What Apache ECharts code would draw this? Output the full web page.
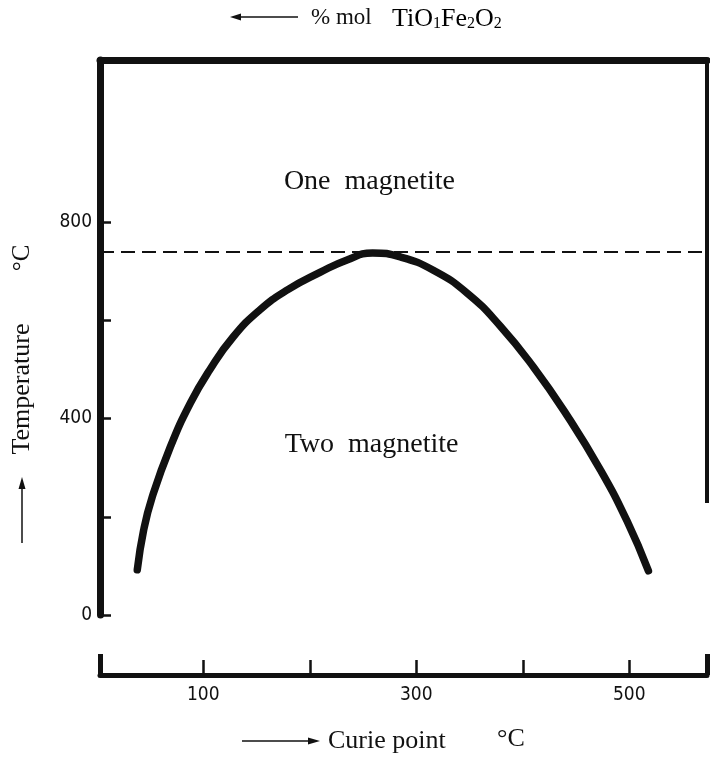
<!DOCTYPE html>
<html>
<head>
<meta charset="utf-8">
<style>
html, body { margin: 0; padding: 0; background: #fff; }
#chart { width: 710px; height: 759px; }
</style>
<script src="https://cdn.jsdelivr.net/npm/echarts@6/dist/echarts.min.js"></script>
</head>
<body>
<div id="chart"></div>
<script>
// solvus curve (Curie point, temperature)
var curieX = [38, 44, 52, 69, 88, 106, 128, 153, 179, 210, 235, 259, 285, 316, 348, 379, 410, 442, 473, 498, 518];
var tempY = [92, 173, 240, 342, 432, 499, 566, 621, 662, 698, 723, 737, 729, 702, 655, 588, 505, 405, 295, 191, 90];
var critTemp = 740;

var xTicks = [100, 200, 300, 400, 500];
var xLabels = [100, 300, 500];
var xEnds = [3, 573];
var yTicks = [0, 200, 400, 600, 800];
var yLabels = [0, 400, 800];

var regionNames = ['One  magnetite', 'Two  magnetite'];
var regionX = [256, 258];
var regionY = [883, 346];

var ink = '#111';
var numFont = '"DejaVu Sans Condensed", "Liberation Sans Narrow", sans-serif';
var serif = '"Liberation Serif", "DejaVu Serif", serif';

var curve = [];
for (var i = 0; i < curieX.length; i++) {
  curve.push([curieX[i], tempY[i]]);
}
var regions = [];
for (var j = 0; j < regionNames.length; j++) {
  regions.push({ name: regionNames[j], value: [regionX[j], regionY[j]] });
}

var myChart = echarts.init(document.getElementById('chart'));
myChart.setOption({
  animation: false,
  backgroundColor: '#fff',
  grid: { left: 100, right: 3, top: 60, bottom: 144 },
  xAxis: [
    {
      type: 'value', position: 'bottom', offset: 60,
      min: xEnds[0], max: xEnds[1],
      axisLine: { show: true, onZero: false, lineStyle: { color: ink, width: 5 } },
      axisTick: { show: true, inside: true, length: 15, customValues: xTicks,
        lineStyle: { color: ink, width: 2.5 } },
      axisLabel: { show: true, customValues: xLabels, margin: 11,
        fontFamily: numFont, fontSize: 19, color: ink },
      splitLine: { show: false }
    },
    {
      // the two end caps of the lower scale
      type: 'value', position: 'bottom', offset: 60,
      min: xEnds[0], max: xEnds[1],
      axisLine: { show: false, onZero: false },
      axisTick: { show: true, inside: true, length: 21, customValues: xEnds,
        lineStyle: { color: ink, width: 5 } },
      axisLabel: { show: false },
      splitLine: { show: false }
    },
    {
      type: 'value', position: 'top',
      min: xEnds[0], max: xEnds[1],
      axisLine: { show: true, onZero: false, lineStyle: { color: ink, width: 7 } },
      axisTick: { show: false },
      axisLabel: { show: false },
      splitLine: { show: false }
    }
  ],
  yAxis: {
    type: 'value', min: 0, max: 1130, interval: 200,
    axisLine: { show: true, onZero: false, lineStyle: { color: ink, width: 7 } },
    axisTick: { show: true, inside: true, length: 11, customValues: yTicks,
      lineStyle: { color: ink, width: 2.5 } },
    axisLabel: { show: true, customValues: yLabels, margin: 8,
      fontFamily: numFont, fontSize: 19, color: ink },
    splitLine: { show: false }
  },
  series: [
    {
      type: 'line',
      data: curve,
      smooth: 0.5,
      symbol: 'none',
      clip: false,
      lineStyle: { color: ink, width: 7.5, cap: 'round', join: 'round' },
      markLine: {
        silent: true,
        symbol: 'none',
        label: { show: false },
        data: [
          { yAxis: critTemp, lineStyle: { type: [14, 7], width: 1.8, color: ink } },
          [
            { coord: [xEnds[1], 228], lineStyle: { type: 'solid', width: 4, color: ink } },
            { coord: [xEnds[1], 1130] }
          ]
        ]
      }
    },
    {
      type: 'scatter',
      data: regions,
      symbolSize: 0,
      silent: true,
      itemStyle: { opacity: 1 },
      label: {
        show: true,
        position: 'inside',
        formatter: '{b}',
        fontFamily: serif,
        fontSize: 28,
        color: ink
      }
    }
  ],
  graphic: [
    // top caption
    { type: 'line', shape: { x1: 236, y1: 17, x2: 298, y2: 17 }, style: { stroke: ink, lineWidth: 1.5 } },
    { type: 'polygon', shape: { points: [[230, 17], [241, 13.5], [241, 20.5]] }, style: { fill: ink } },
    { type: 'text', x: 311, y: 18, style: { text: '% mol', fontFamily: serif, fontSize: 23,
      fill: ink, verticalAlign: 'middle' } },
    {
      type: 'text', x: 392, y: 18,
      style: {
        text: '{a|TiO}{s|1}{a|Fe}{s|2}{a|O}{s|2}',
        verticalAlign: 'middle',
        rich: {
          a: { fontFamily: serif, fontSize: 26, color: ink, verticalAlign: 'bottom', lineHeight: 28 },
          s: { fontFamily: serif, fontSize: 16, color: ink, verticalAlign: 'bottom', lineHeight: 28 }
        }
      }
    },
    // x axis name
    { type: 'line', shape: { x1: 242, y1: 741, x2: 312, y2: 741 }, style: { stroke: ink, lineWidth: 1.5 } },
    { type: 'polygon', shape: { points: [[320, 741], [308, 737.5], [308, 744.5]] }, style: { fill: ink } },
    { type: 'text', x: 328, y: 741, style: { text: 'Curie point', fontFamily: serif, fontSize: 26,
      fill: ink, verticalAlign: 'middle' } },
    { type: 'text', x: 497, y: 739, style: { text: '°C', fontFamily: serif, fontSize: 26,
      fill: ink, verticalAlign: 'middle' } },
    // y axis name, read bottom to top
    { type: 'line', shape: { x1: 22, y1: 543, x2: 22, y2: 486 }, style: { stroke: ink, lineWidth: 1.5 } },
    { type: 'polygon', shape: { points: [[22, 477], [18.5, 489], [25.5, 489]] }, style: { fill: ink } },
    { type: 'text', x: 22, y: 389, rotation: Math.PI / 2,
      style: { text: 'Temperature', fontFamily: serif, fontSize: 26, fill: ink,
        align: 'center', verticalAlign: 'middle' } },
    { type: 'text', x: 22, y: 258, rotation: Math.PI / 2,
      style: { text: '°C', fontFamily: serif, fontSize: 25, fill: ink,
        align: 'center', verticalAlign: 'middle' } }
  ]
});
</script>
</body>
</html>
